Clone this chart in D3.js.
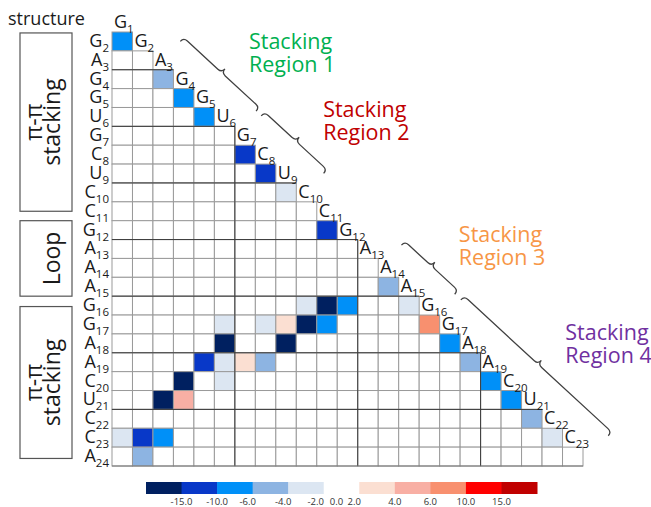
<!DOCTYPE html>
<html>
<head>
<meta charset="utf-8">
<script src="https://cdn.jsdelivr.net/npm/d3@7"></script>
<style>
  body { margin: 0; background: #fff; }
  text { font-family: "Open Sans", sans-serif; fill: #1a1a1a; }
</style>
</head>
<body>
<svg id="chart" width="651" height="507"></svg>
<script>
// sequence, 1..24
const bases = ["G","G","A","G","G","U","G","C","U","C","C","G","A","A","A","G","G","A","A","C","U","C","C","A"];
const rowNums = d3.range(2, 25);   // G2 .. A24
const colNums = d3.range(1, 24);   // G1 .. C23

// [row nucleotide, column nucleotide, value]; every other cell is 0
const cellValues = [
  [2, 1, -8], [4, 3, -5], [5, 4, -8], [6, 5, -7], [8, 7, -12], [9, 8, -12],
  [10, 9, -3], [12, 11, -12], [15, 14, -5], [16, 15, -3], [17, 16, 8],
  [18, 17, -8], [19, 18, -5], [20, 19, -8], [21, 20, -8], [22, 21, -5], [23, 22, -3],
  [16, 10, -3], [16, 11, -18], [16, 12, -8],
  [17, 6, -3], [17, 8, -3], [17, 9, 3], [17, 10, -18], [17, 11, -8],
  [18, 6, -18], [18, 9, -18],
  [19, 5, -12], [19, 6, -3], [19, 7, 3], [19, 8, -5],
  [20, 4, -18], [20, 6, -3],
  [21, 3, -18], [21, 4, 5],
  [23, 1, -3], [23, 2, -12], [23, 3, -8],
  [24, 2, -5]
];

const legendThresholds = [-15, -10, -6, -4, -2, 2, 4, 6, 10, 15];
const legendColors = ["#002060", "#0838C8", "#0090F8", "#8DB4E2", "#DCE6F2", "#FFFFFF",
                      "#FBDFD2", "#F8AFA4", "#F8906F", "#FF0000", "#C00000"];
const legendLabels = ["-15.0", "-10.0", "-6.0", "-4.0", "-2.0", "0.0", "2.0", "4.0", "6.0", "10.0", "15.0"];

// structure boxes on the left, extents in row units
const structureGroups = [
  {lines: ["π-π", "stacking"], from: 0.05, to: 9.5},
  {lines: ["", "Loop"], from: 10.0, to: 14.0},
  {lines: ["π-π", "stacking"], from: 14.55, to: 22.6}
];

// stacking region brackets, extents in row units along the diagonal
const regions = [
  {lines: ["Stacking", "Region 1"], color: "#00B050", from: 0.3, to: 4.0},
  {lines: ["Stacking", "Region 2"], color: "#C00000", from: 4.25, to: 7.3},
  {lines: ["Stacking", "Region 3"], color: "#F79646", from: 11.1, to: 13.7},
  {lines: ["Stacking", "Region 4"], color: "#7030A0", from: 14.0, to: 21.2}
];

const darkRows = [4, 7, 10, 13, 16, 19, 22];
const darkCols = [7, 13, 19];

const svg = d3.select("#chart");

const x = d3.scaleBand().domain(colNums).range([112, 583]);
const y = d3.scaleBand().domain(rowNums).range([32, 466]);
const bw = x.bandwidth(), bh = y.bandwidth();
const rowTop = k => y.range()[0] + (k - 2) * y.step();
const colLeft = k => x.range()[0] + (k - 1) * x.step();
// point on the bracket line, in row units along the diagonal
const diagPt = v => [x.range()[0] + (v + 3.2) * x.step(), y.range()[0] + v * y.step()];

const color = d3.scaleThreshold().domain(legendThresholds).range(legendColors);
const valueMap = new Map(cellValues.map(d => [d[0] + "-" + d[1], d[2]]));

const cells = [];
rowNums.forEach(r => colNums.filter(c => c < r).forEach(c => {
  cells.push({r, c, v: valueMap.get(r + "-" + c) ?? 0});
}));

// matrix cells
svg.append("g").selectAll("rect").data(cells).join("rect")
  .attr("x", d => x(d.c)).attr("y", d => y(d.r))
  .attr("width", bw).attr("height", bh)
  .attr("fill", d => color(d.v))
  .attr("stroke", "#9a9a9a").attr("stroke-width", 1);

// darker separators
const sep = svg.append("g").attr("stroke", "#3a3a3a").attr("stroke-width", 1);
sep.selectAll(".hr").data(darkRows).join("line")
  .attr("x1", x.range()[0]).attr("x2", k => colLeft(k - 1) + bw)
  .attr("y1", k => y(k)).attr("y2", k => y(k));
sep.selectAll(".vr").data(darkCols).join("line")
  .attr("x1", k => colLeft(k)).attr("x2", k => colLeft(k))
  .attr("y1", k => rowTop(k)).attr("y2", y.range()[1]);
sep.append("line").attr("x1", x.range()[0]).attr("x2", x.range()[1])
  .attr("y1", y.range()[1]).attr("y2", y.range()[1]).attr("stroke", "#777");

// row labels
const sub = (sel, k, fs) => {
  sel.append("tspan").text(bases[k - 1]);
  sel.append("tspan").attr("font-size", fs).attr("dy", 5).text(k);
};
svg.append("g").selectAll("text").data(rowNums).join("text")
  .attr("x", 109).attr("y", k => rowTop(k) + bh - 4)
  .attr("text-anchor", "end").attr("font-size", 18)
  .each(function(k) { sub(d3.select(this), k, 11.5); });

// diagonal (column) labels
svg.append("g").selectAll("text").data(colNums).join("text")
  .attr("x", k => colLeft(k) + 2).attr("y", k => rowTop(k) + bh - 4)
  .attr("font-size", 18)
  .each(function(k) { sub(d3.select(this), k, 11.5); });

svg.append("text").attr("x", 8).attr("y", 25).attr("font-size", 18).text("structure");

// structure boxes
const sg = svg.append("g").selectAll("g").data(structureGroups).join("g");
sg.append("rect")
  .attr("x", 20).attr("width", 52)
  .attr("y", d => y.range()[0] + d.from * y.step())
  .attr("height", d => (d.to - d.from) * y.step())
  .attr("fill", "none").attr("stroke", "#555").attr("stroke-width", 1.2);
sg.append("g")
  .attr("transform", d => `translate(46,${y.range()[0] + (d.from + d.to) / 2 * y.step()}) rotate(-90)`)
  .selectAll("text").data(d => d.lines).join("text")
  .attr("text-anchor", "middle").attr("font-size", 23)
  .attr("y", (d, i) => i === 0 ? -4 : 14)
  .text(d => d);

// brackets (curly braces pointing at the labels) + region labels
const rg = svg.append("g").selectAll("g").data(regions).join("g");
rg.each(function(d) {
  const g = d3.select(this);
  const s = diagPt(d.from), e = diagPt(d.to);
  const len = Math.hypot(e[0] - s[0], e[1] - s[1]);
  const ux = (e[0] - s[0]) / len, uy = (e[1] - s[1]) / len;
  const nx = uy, ny = -ux;   // away from the matrix
  const q = 5, r = 5;
  const pt = (p, a, b) => [p[0] + ux * a + nx * b, p[1] + uy * a + ny * b];
  const m = [(s[0] + e[0]) / 2, (s[1] + e[1]) / 2];
  const p = d3.path();
  let a = pt(s, 0, -q), c, t;
  p.moveTo(...a);
  c = pt(s, 0, 0); t = pt(s, r, 0); p.quadraticCurveTo(...c, ...t);
  t = pt(m, -r, 0); p.lineTo(...t);
  c = pt(m, 0, 0); t = pt(m, 0, q); p.quadraticCurveTo(...c, ...t);
  c = pt(m, 0, 0); t = pt(m, r, 0); p.quadraticCurveTo(...c, ...t);
  t = pt(e, -r, 0); p.lineTo(...t);
  c = pt(e, 0, 0); t = pt(e, 0, -q); p.quadraticCurveTo(...c, ...t);
  g.append("path").attr("d", p.toString())
    .attr("fill", "none").attr("stroke", "#404040").attr("stroke-width", 1.3);
  const tip = pt(m, 0, q);
  g.selectAll("text").data(d.lines).join("text")
    .attr("x", tip[0] + 24).attr("y", (l, i) => tip[1] - 20 + i * 23)
    .attr("font-size", 21.5).style("fill", d.color).text(l => l);
});

// color legend
const lx = d3.scaleBand().domain(d3.range(legendColors.length)).range([146, 537]);
svg.append("g").selectAll("rect").data(legendColors).join("rect")
  .attr("x", (c, i) => lx(i)).attr("y", 482)
  .attr("width", lx.bandwidth() + 0.5).attr("height", 12)
  .attr("fill", c => c);
const labelX = i => i < 5 ? lx(i + 1) - (i >= 2 ? 5 : 0) - (i === 4 ? 3 : 0)
                  : i === 5 ? lx(5) + lx.step() / 2 - 5
                  : lx(i) - (i === 6 ? 5 : 0);
svg.append("g").selectAll("text").data(legendLabels).join("text")
  .attr("x", (l, i) => labelX(i)).attr("y", 505)
  .attr("text-anchor", "middle").attr("font-size", 9.5).style("fill", "#333")
  .text(l => l);
</script>
</body>
</html>
